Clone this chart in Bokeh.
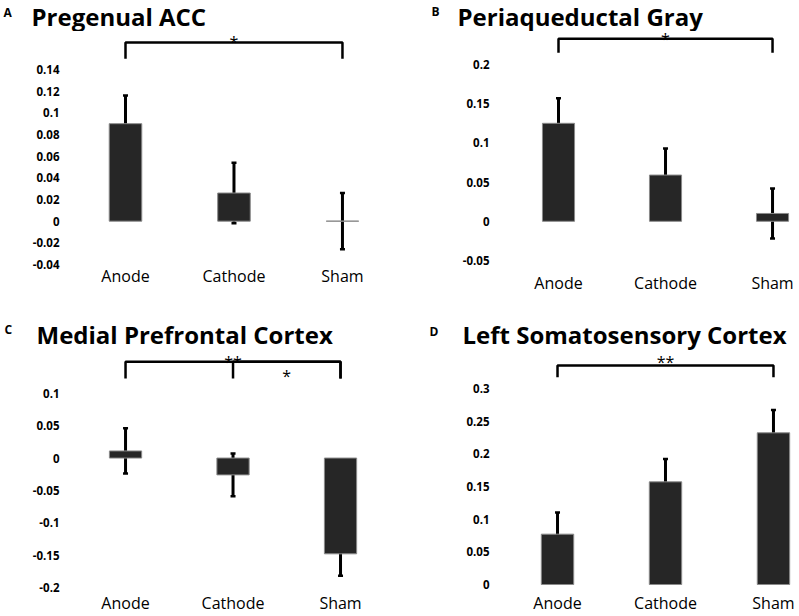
from bokeh.plotting import figure
from bokeh.models import (ColumnDataSource, Whisker, TeeHead, Range1d, FixedTicker,
                          CustomJSTickFormatter, Label)
from bokeh.layouts import column, row
from bokeh.core.properties import value
from bokeh.embed import file_html
from bokeh.resources import INLINE

# ---------------- data ----------------
categories = ["Anode", "Cathode", "Sham"]

pgacc_mean = [0.090, 0.026, 0.000]
pgacc_err = [0.026, 0.028, 0.026]
pgacc_ticks = [-0.04, -0.02, 0, 0.02, 0.04, 0.06, 0.08, 0.1, 0.12, 0.14]

pag_mean = [0.125, 0.059, 0.010]
pag_err = [0.032, 0.034, 0.032]
pag_ticks = [-0.05, 0, 0.05, 0.1, 0.15, 0.2]

mpfc_mean = [0.011, -0.026, -0.148]
mpfc_err = [0.035, 0.033, 0.034]
mpfc_ticks = [-0.2, -0.15, -0.1, -0.05, 0, 0.05, 0.1]

lsc_mean = [0.077, 0.157, 0.232]
lsc_err = [0.033, 0.035, 0.035]
lsc_ticks = [0, 0.05, 0.1, 0.15, 0.2, 0.25, 0.3]

panel_letters = ["A", "B", "C", "D"]
panel_titles = ["Pregenual ACC", "Periaqueductal Gray",
                "Medial Prefrontal Cortex", "Left Somatosensory Cortex"]

# significance brackets: (from index, to index, bar height, foot height, stars, star y-offset px)
pgacc_brackets = [(0, 2, 0.165, 0.150, "*", 0)]
pag_brackets = [(0, 2, 0.233, 0.215, "*", 0)]
mpfc_brackets = [(0, 2, 0.149, 0.123, "**", 0), (1, 2, 0.149, 0.123, "*", 14)]
lsc_brackets = [(0, 2, 0.335, 0.317, "**", -3)]

BAR = "#262626"
FONT = "Open Sans"


def panel(means, errs, ticks, brackets, width, height,
          border_left, border_bottom, xr, yr, label_standoff):
    xs = list(range(len(categories)))
    src = ColumnDataSource(dict(
        x=xs, mean=means,
        upper=[m + e for m, e in zip(means, errs)],
        lower=[m - e for m, e in zip(means, errs)],
    ))
    p = figure(width=width, height=height, output_backend="svg", toolbar_location=None,
               x_range=Range1d(*xr), y_range=Range1d(*yr),
               min_border_left=border_left, min_border_right=0, min_border_top=0,
               min_border_bottom=border_bottom)
    p.outline_line_color = None
    p.xgrid.visible = False
    p.ygrid.visible = False
    p.background_fill_color = "white"
    p.border_fill_color = "white"

    p.vbar(x="x", top="mean", bottom=0, width=0.3, source=src,
           fill_color=BAR, line_color="#8a8a8a", line_width=1)
    w = Whisker(source=src, base="x", upper="upper", lower="lower",
                line_color="black", line_width=3,
                upper_head=TeeHead(size=5, line_width=2.5, line_color="black"),
                lower_head=TeeHead(size=5, line_width=2.5, line_color="black"))
    p.add_layout(w)

    for (i, j, h, foot, stars, yoff) in brackets:
        p.line(x=[xs[i], xs[i], xs[j], xs[j]], y=[foot, h, h, foot],
               line_color="black", line_width=2.5)
        p.text(x=[(xs[i] + xs[j]) / 2], y=[h], text=[stars],
               text_font=value(FONT), text_font_size="16px",
               text_align="center", text_baseline="middle",
               y_offset=yoff, text_color="black")

    p.xaxis.ticker = FixedTicker(ticks=xs)
    p.xaxis.major_label_overrides = {x: c for x, c in zip(xs, categories)}
    p.xaxis.axis_line_color = None
    p.xaxis.major_tick_line_color = None
    p.xaxis.minor_tick_line_color = None
    p.xaxis.major_tick_out = 0
    p.xaxis.major_tick_in = 0
    p.xaxis.major_label_standoff = label_standoff
    p.xaxis.major_label_text_font = FONT
    p.xaxis.major_label_text_font_size = "16px"
    p.xaxis.major_label_text_color = "black"

    p.yaxis.ticker = FixedTicker(ticks=ticks)
    p.yaxis.formatter = CustomJSTickFormatter(code="return String(parseFloat(tick.toFixed(4)));")
    p.yaxis.axis_line_color = None
    p.yaxis.major_tick_line_color = None
    p.yaxis.minor_tick_line_color = None
    p.yaxis.major_tick_out = 0
    p.yaxis.major_tick_in = 0
    p.yaxis.major_label_standoff = 11
    p.yaxis.major_label_text_font = FONT
    p.yaxis.major_label_text_font_style = "bold"
    p.yaxis.major_label_text_font_size = "11.5px"
    p.yaxis.major_label_text_color = "black"
    return p


def title_strip(width, height, items):
    # items: (text, x px, vertical centre px, size) in this strip's own pixel space
    t = figure(width=width, height=height, output_backend="svg", toolbar_location=None,
               x_range=Range1d(0, width), y_range=Range1d(height, 0),
               x_axis_type=None, y_axis_type=None,
               min_border_left=0, min_border_right=0, min_border_top=0, min_border_bottom=0)
    t.outline_line_color = None
    t.grid.visible = False
    t.background_fill_color = "white"
    t.border_fill_color = "white"
    for text, x, y, size in items:
        t.add_layout(Label(x=x, y=y, text=text, text_font=FONT, text_font_style="bold",
                           text_font_size=size, text_baseline="middle",
                           text_color="black"))
    return t


top_titles = title_strip(799, 31, [
    (panel_letters[0], 3, 12, "12px"), (panel_titles[0], 31, 16, "24px"),
    (panel_letters[1], 431, 11, "12px"), (panel_titles[1], 457, 16, "24px"),
])
bottom_titles = title_strip(799, 50, [
    (panel_letters[2], 4, 29, "12px"), (panel_titles[2], 36, 34, "24px"),
    (panel_letters[3], 429, 31, "12px"), (panel_titles[3], 462, 34, "24px"),
])

pA = panel(pgacc_mean, pgacc_err, pgacc_ticks, pgacc_brackets,
           400, 269, 70, 36, (-0.507, 2.535), (-0.04, 0.1751), 0)
pB = panel(pag_mean, pag_err, pag_ticks, pag_brackets,
           399, 269, 100, 36, (-0.542, 2.252), (-0.0551, 0.2421), 7)
pC = panel(mpfc_mean, mpfc_err, mpfc_ticks, mpfc_brackets,
           400, 266, 70, 24, (-0.512, 2.558), (-0.2062, 0.1662), 0)
pD = panel(lsc_mean, lsc_err, lsc_ticks, lsc_brackets,
           399, 266, 100, 24, (-0.528, 2.241), (-0.0107, 0.3579), 0)

layout = column(top_titles, row(pA, pB), bottom_titles, row(pC, pD))
open("out.html", "w").write(file_html(layout, INLINE))
